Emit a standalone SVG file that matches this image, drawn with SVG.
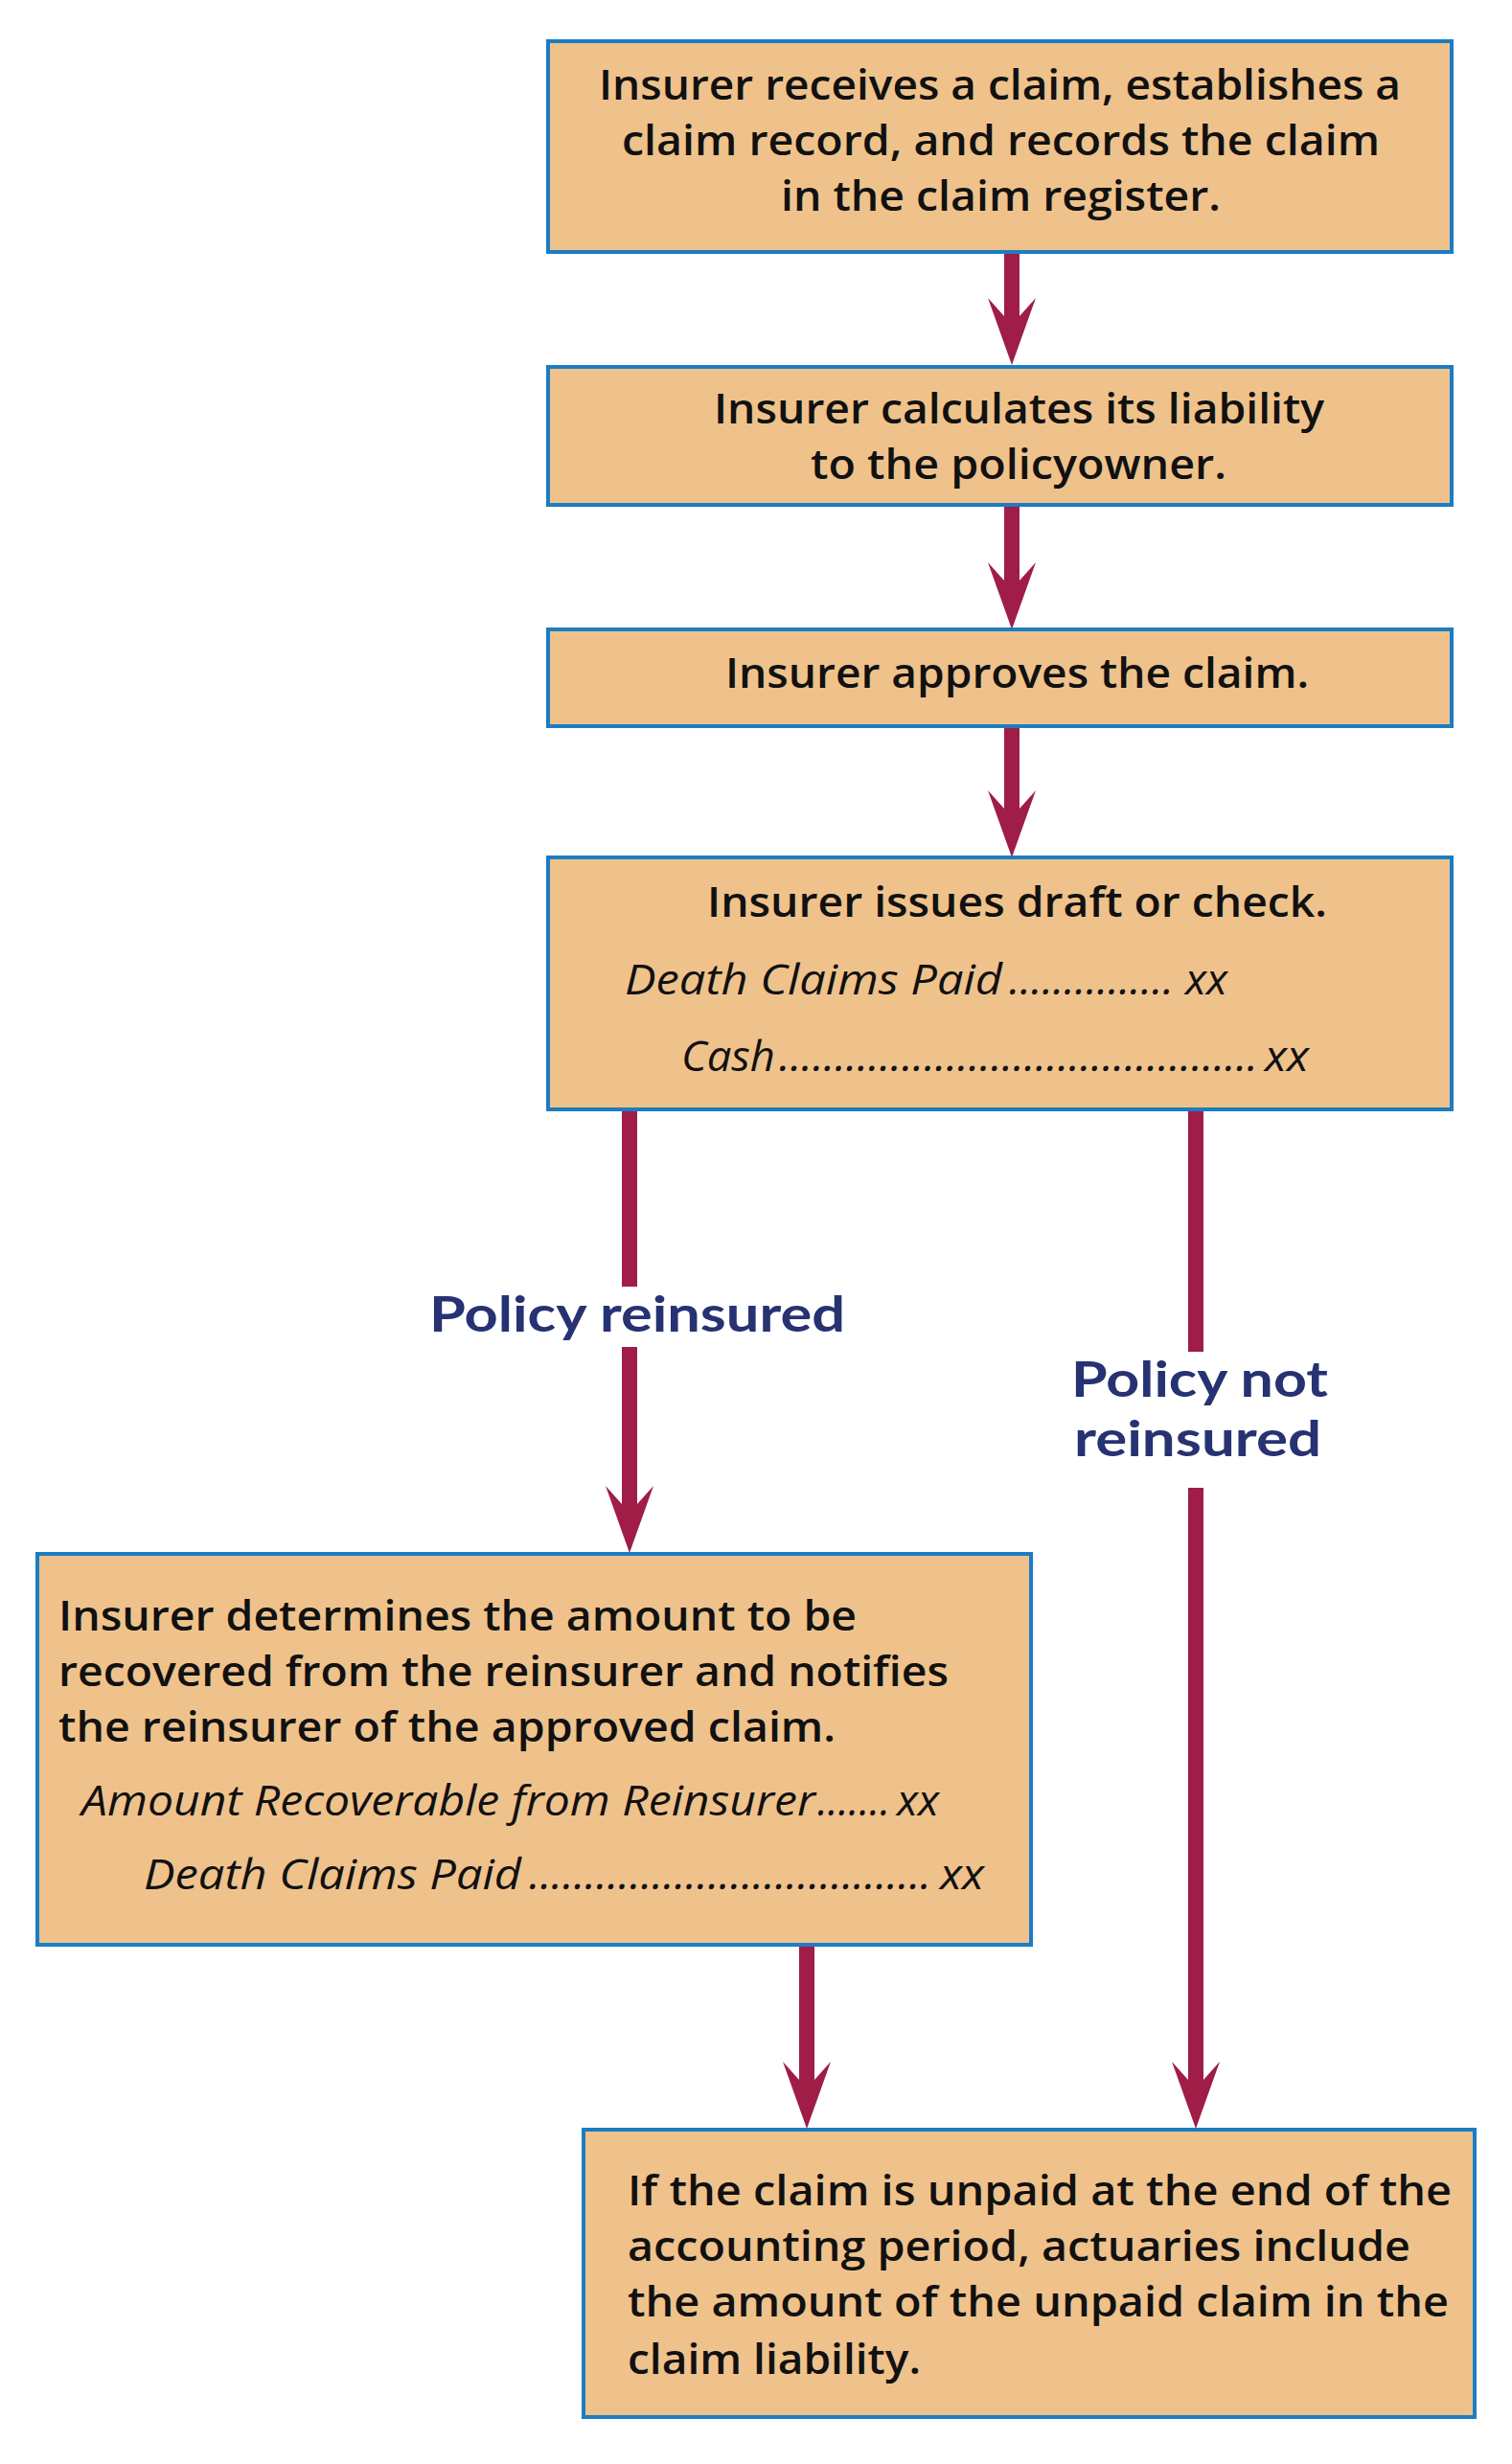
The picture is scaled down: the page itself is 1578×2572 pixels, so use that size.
<svg xmlns="http://www.w3.org/2000/svg" width="1578" height="2572" viewBox="0 0 1578 2572">
<style>
.box{fill:#EFC28C;stroke:#1B7DC3;stroke-width:4}
.t{font-family:"Open Sans","Noto Sans","Liberation Sans",sans-serif;font-weight:600;font-size:44px;fill:#111}
.i{font-family:"Open Sans","Noto Sans","Liberation Sans",sans-serif;font-style:italic;font-weight:400;font-size:44px;fill:#111}
.lbl{font-family:Lato,"Open Sans","Liberation Sans",sans-serif;font-weight:700;font-size:51px;fill:#263272}
.arr{stroke:#A01D47;stroke-width:16;fill:none}
</style>
<defs>
<marker id="ah" markerUnits="userSpaceOnUse" markerWidth="80" markerHeight="60" refX="0" refY="25" orient="auto" overflow="visible">
<path d="M-24,0 L46,25 L-24,50 L-5,33 L-5,17 Z" fill="#A01D47"/>
</marker>
</defs>
<rect width="1578" height="2572" fill="#ffffff"/>
<g id="connectors">
<line class="arr" x1="1056" y1="263" x2="1056" y2="335" marker-end="url(#ah)"/>
<line class="arr" x1="1056" y1="527" x2="1056" y2="611" marker-end="url(#ah)"/>
<line class="arr" x1="1056" y1="758" x2="1056" y2="849" marker-end="url(#ah)"/>
<line class="arr" x1="657" y1="1158" x2="657" y2="1343"/>
<line class="arr" x1="657" y1="1406" x2="657" y2="1575" marker-end="url(#ah)"/>
<line class="arr" x1="1248" y1="1158" x2="1248" y2="1411"/>
<line class="arr" x1="1248" y1="1553" x2="1248" y2="2176" marker-end="url(#ah)"/>
<line class="arr" x1="842" y1="2030" x2="842" y2="2176" marker-end="url(#ah)"/>
</g>
<g id="n1">
<rect class="box" x="572" y="43" width="943" height="220"/>
<text class="t" x="625" y="104" textLength="837" lengthAdjust="spacingAndGlyphs">Insurer receives a claim, establishes a</text>
<text class="t" x="649" y="162" textLength="791" lengthAdjust="spacingAndGlyphs">claim record, and records the claim</text>
<text class="t" x="815" y="220" textLength="459" lengthAdjust="spacingAndGlyphs">in the claim register.</text>
</g>
<g id="n2">
<rect class="box" x="572" y="383" width="943" height="144"/>
<text class="t" x="745" y="442" textLength="637" lengthAdjust="spacingAndGlyphs">Insurer calculates its liability</text>
<text class="t" x="846" y="500" textLength="434" lengthAdjust="spacingAndGlyphs">to the policyowner.</text>
</g>
<g id="n3">
<rect class="box" x="572" y="657" width="943" height="101"/>
<text class="t" x="757" y="718" textLength="609" lengthAdjust="spacingAndGlyphs">Insurer approves the claim.</text>
</g>
<g id="n4">
<rect class="box" x="572" y="895" width="943" height="263"/>
<text class="t" x="738" y="957" textLength="647" lengthAdjust="spacingAndGlyphs">Insurer issues draft or check.</text>
<text class="i" y="1038"><tspan x="1053" textLength="172" lengthAdjust="spacingAndGlyphs">...............</tspan><tspan x="652" textLength="394" lengthAdjust="spacingAndGlyphs">Death Claims Paid</tspan><tspan x="1237" textLength="44" lengthAdjust="spacingAndGlyphs">xx</tspan></text>
<text class="i" y="1118"><tspan x="813" textLength="500" lengthAdjust="spacingAndGlyphs">...........................................</tspan><tspan x="711" textLength="98" lengthAdjust="spacingAndGlyphs">Cash</tspan><tspan x="1320" textLength="46" lengthAdjust="spacingAndGlyphs">xx</tspan></text>
</g>
<g id="lbl1">
<text class="lbl" x="448" y="1390" textLength="434" lengthAdjust="spacingAndGlyphs">Policy reinsured</text>
</g>
<g id="lbl2">
<text class="lbl"><tspan x="1118" y="1458" textLength="268" lengthAdjust="spacingAndGlyphs">Policy not</tspan><tspan x="1121" y="1520" textLength="258" lengthAdjust="spacingAndGlyphs">reinsured</tspan></text>
</g>
<g id="n5">
<rect class="box" x="39" y="1622" width="1037" height="408"/>
<text class="t" x="61" y="1702" textLength="833" lengthAdjust="spacingAndGlyphs">Insurer determines the amount to be</text>
<text class="t" x="61" y="1760" textLength="929" lengthAdjust="spacingAndGlyphs">recovered from the reinsurer and notifies</text>
<text class="t" x="61" y="1818" textLength="811" lengthAdjust="spacingAndGlyphs">the reinsurer of the approved claim.</text>
<text class="i" y="1895"><tspan x="853" textLength="76" lengthAdjust="spacingAndGlyphs">.......</tspan><tspan x="85" textLength="766" lengthAdjust="spacingAndGlyphs">Amount Recoverable from Reinsurer</tspan><tspan x="936" textLength="44" lengthAdjust="spacingAndGlyphs">xx</tspan></text>
<text class="i" y="1972"><tspan x="552" textLength="420" lengthAdjust="spacingAndGlyphs">....................................</tspan><tspan x="150" textLength="394" lengthAdjust="spacingAndGlyphs">Death Claims Paid</tspan><tspan x="981" textLength="46" lengthAdjust="spacingAndGlyphs">xx</tspan></text>
</g>
<g id="n6">
<rect class="box" x="609" y="2223" width="930" height="300"/>
<text class="t" x="655" y="2302" textLength="860" lengthAdjust="spacingAndGlyphs">If the claim is unpaid at the end of the</text>
<text class="t" x="655" y="2360" textLength="817" lengthAdjust="spacingAndGlyphs">accounting period, actuaries include</text>
<text class="t" x="655" y="2418" textLength="857" lengthAdjust="spacingAndGlyphs">the amount of the unpaid claim in the</text>
<text class="t" x="655" y="2478" textLength="306" lengthAdjust="spacingAndGlyphs">claim liability.</text>
</g>
</svg>
